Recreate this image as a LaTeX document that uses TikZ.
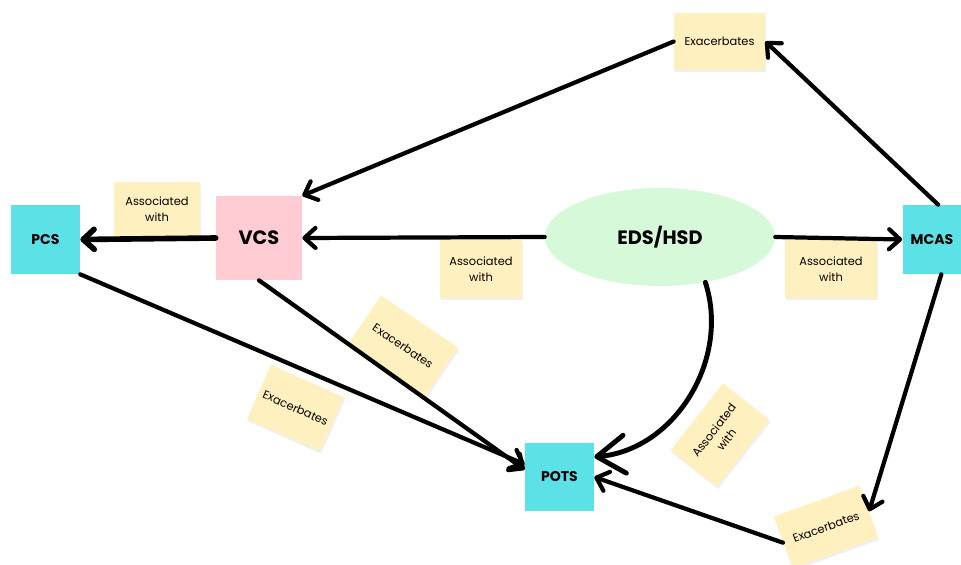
\documentclass[tikz,border=0pt]{standalone}
\usepackage{fontspec}
\setmainfont{Poppins}
\usepackage{tikz}
\usetikzlibrary{positioning, arrows.meta, shapes.geometric, shadows}

\definecolor{boxcyan}{HTML}{5CE1E6}
\definecolor{boxpink}{HTML}{FFCCD3}
\definecolor{ellgreen}{HTML}{D6FAD9}
\definecolor{noteyellow}{HTML}{FFF1BF}

\begin{document}
\begin{tikzpicture}[x=0.02cm, y=-0.02cm,
        box/.style={fill=boxcyan, inner sep=0pt, font=\bfseries\fontsize{8}{9}\selectfont},
        bigbox/.style={inner sep=0pt, font=\bfseries\fontsize{11}{12}\selectfont},
        note/.style={fill=noteyellow, align=center, inner sep=0pt,
            drop shadow={opacity=0.12, shadow xshift=0.02cm, shadow yshift=-0.05cm},
            font=\fontsize{6.5}{9}\selectfont},
        link/.style={line width=2.4pt, line cap=round,
            -{Straight Barb[round, length=0.22cm, width=0.4cm]}}]
        \useasboundingbox (0,0) rectangle (961,565);
        % main nodes
        \node[box, minimum width=1.38cm, minimum height=1.38cm] (pcs) at (45.5,239.5) {PCS};
        \node[bigbox, fill=boxpink, minimum width=1.72cm, minimum height=1.68cm] (vcs) at (259,238) {VCS};
        \node[bigbox, ellipse, fill=ellgreen, minimum width=4.6cm, minimum height=1.96cm] (eds) at (660,237) {EDS/HSD};
        \node[box, minimum width=1.18cm, minimum height=1.38cm] (mcas) at (932,239.5) {MCAS};
        \node[box, minimum width=1.38cm, minimum height=1.36cm] (pots) at (559.5,477) {POTS};
        % sticky notes
        \node[note, minimum width=1.72cm, minimum height=1.08cm] (assocpcs) at (157,209) {Associated\\with};
        \node[note, minimum width=1.64cm, minimum height=1.16cm] (assocvcs) at (481,269) {Associated\\with};
        \node[note, minimum width=1.84cm, minimum height=1.16cm] (assocmcas) at (831,269) {Associated\\with};
        \node[note, minimum width=1.82cm, minimum height=1.14cm] (exatop) at (719.5,41.5) {Exacerbates};
        \node[note, rotate=-34, minimum width=1.86cm, minimum height=1.18cm] (exavcs) at (403,346) {Exacerbates};
        \node[note, rotate=-24, minimum width=1.6cm, minimum height=1.18cm] (exapcs) at (295.5,408) {Exacerbates};
        \node[note, rotate=52, minimum width=1.7cm, minimum height=1.18cm] (assocpots) at (720,435) {Associated\\with};
        \node[note, rotate=20, minimum width=1.82cm, minimum height=1.1cm] (examcas) at (826,527) {Exacerbates};
        % connectors
        \draw[link, line width=3.2pt] (vcs.west) -- (pcs.east);
        \draw[link] (eds.west) -- (vcs.east);
        \draw[link] (eds.east) -- (mcas.west);
        \draw[link] (exatop.west) -- (vcs.north east);
        \draw[link] (mcas.80) -- (exatop.east);
        \draw[link] (pcs.south east) -- (pots.160);
        \draw[link] (vcs.south) -- (pots.168);
        \draw[link, line width=2.8pt, -{Straight Barb[round, length=0.56cm, width=0.76cm]}]
            (eds.-45) to[out=-72, in=5] (pots.30);
        \draw[link] (mcas.-75) -- (examcas.east);
        \draw[link] (examcas.west) -- (pots.east);
\end{tikzpicture}
\end{document}
